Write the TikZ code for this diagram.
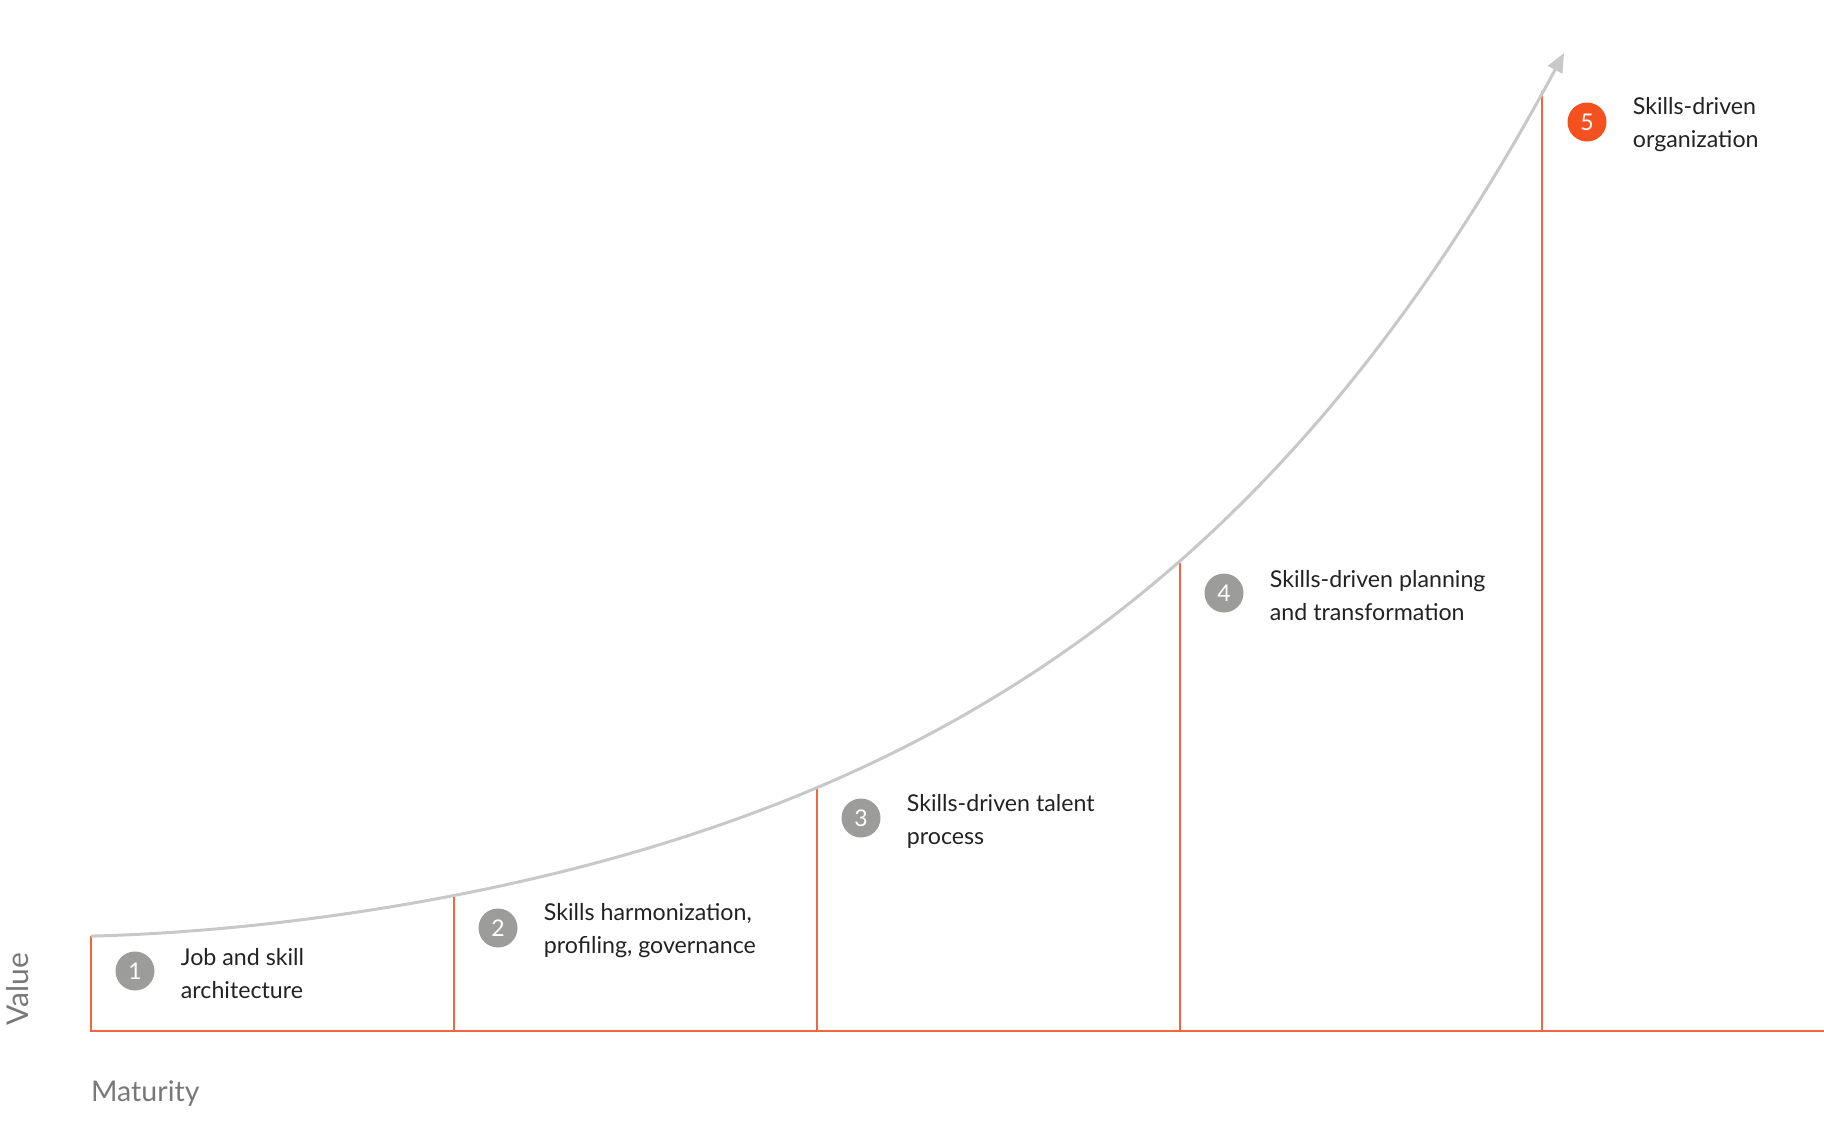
\documentclass[tikz,border=0pt]{standalone}
\usepackage{fontspec}
\setmainfont{Lato}
\usetikzlibrary{arrows.meta,positioning}

\definecolor{stepred}{HTML}{F2663F}
\definecolor{dotgray}{HTML}{9C9C9A}
\definecolor{dotred}{HTML}{F4511E}
\definecolor{curvegray}{HTML}{C8C8C8}
\definecolor{axisgray}{HTML}{787878}
\definecolor{textdark}{HTML}{222222}

\tikzset{
	stepline/.style={draw=stepred, line width=2pt},
	valuecurve/.style={draw=curvegray, line width=3pt, -{Triangle[length=19pt,width=16pt]}},
	dot/.style={circle, fill=dotgray, minimum size=39pt, inner sep=0pt, text=white, font=\fontsize{23}{23}\selectfont},
	stagetext/.style={anchor=west, align=left, inner sep=0pt, yshift=-3pt, text=textdark, font=\fontsize{23.2}{33}\selectfont},
	axislabel/.style={text=axisgray, inner sep=0pt}
}

\begin{document}
\begin{tikzpicture}[x=1pt, y=-1pt]
		\useasboundingbox (0,0) rectangle (1824,1128);
		
		% tops of the steps
		\coordinate (t0) at (91,936);
		\coordinate (t1) at (454,897);
		\coordinate (t2) at (817,787);
		\coordinate (t3) at (1180,563);
		\coordinate (t4) at (1542,91);
		\coordinate (b0) at (91,1031);
		\coordinate (bend) at (1824,1031);
		
		\draw[stepline] (t0) -- (b0) -- (bend);
		\foreach \i in {1,...,4}
			\draw[stepline] (t\i) -- (t\i |- b0);
		
		% value grows roughly exponentially with maturity
		\draw[valuecurve] plot[domain=91:1564, samples=120, smooth]
			(\x, {1031 - (30 + 41.6*exp(0.002004*\x) + 15*exp(-(\x-91)/200))});
		
		\node[dot] (n1) at (135,971) {1};
		\node[dot] (n2) at (498,928) {2};
		\node[dot] (n3) at (861,818) {3};
		\node[dot] (n4) at (1224,593) {4};
		\node[dot, fill=dotred] (n5) at (1587,122) {5};
		
		\node[stagetext, right=26pt of n1] (s1) {Job and skill\\architecture};
		\node[stagetext, right=26pt of n2] (s2) {Skills harmonization,\\profiling, governance};
		\node[stagetext, right=26pt of n3] (s3) {Skills-driven talent\\process};
		\node[stagetext, right=26pt of n4] (s4) {Skills-driven planning\\and transformation};
		\node[stagetext, right=26pt of n5] (s5) {Skills-driven\\organization};
		
		\node[axislabel, rotate=90, font=\fontsize{30}{30}\selectfont] (value) at (18,989) {Value};
		\node[axislabel, anchor=west, font=\fontsize{28.5}{28.5}\selectfont] (maturity) at (91,1094) {Maturity};
	\end{tikzpicture}
\end{document}
